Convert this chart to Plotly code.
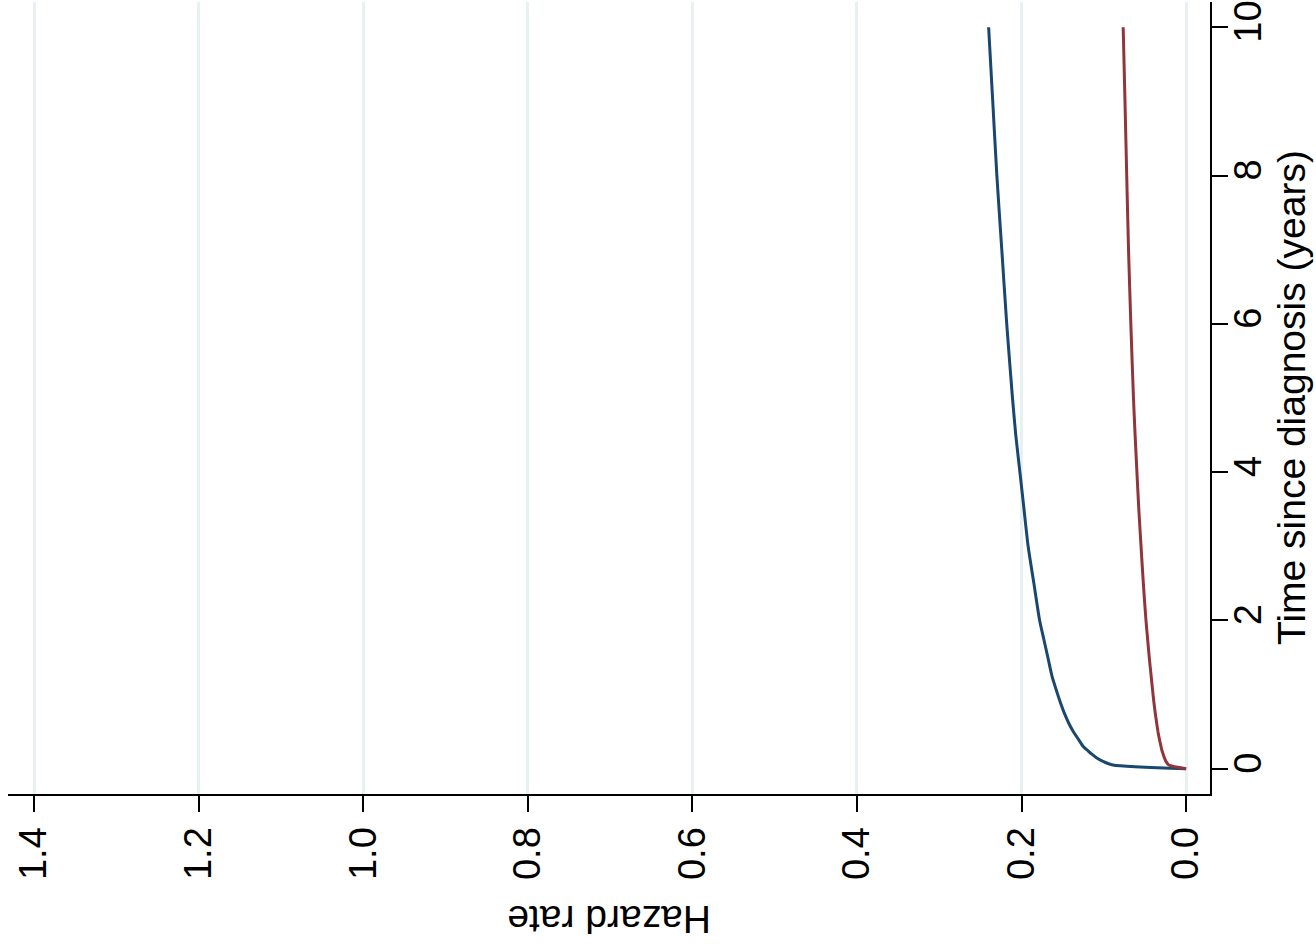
import plotly.graph_objects as go

# Data
time_years = [0, 0.05, 0.1, 0.15, 0.2, 0.25, 0.3, 0.4, 0.5, 0.6, 0.75, 0.9, 1, 1.25, 1.5,
              1.75, 2, 2.5, 3, 3.5, 4, 4.5, 5, 6, 7, 8, 9, 10]
hazard_blue = [0, 0.089, 0.101, 0.109, 0.115, 0.120, 0.125, 0.131, 0.137, 0.142, 0.148,
               0.153, 0.156, 0.163, 0.168, 0.173, 0.178, 0.185, 0.192, 0.197, 0.202,
               0.207, 0.211, 0.218, 0.224, 0.230, 0.235, 0.240]
hazard_red = [0, 0.021, 0.0245, 0.0265, 0.028, 0.0295, 0.0305, 0.0325, 0.0342, 0.0356, 0.0375,
              0.0392, 0.0402, 0.0425, 0.0448, 0.0468, 0.0488, 0.052, 0.0548, 0.0575, 0.0598,
              0.062, 0.064, 0.0672, 0.0700, 0.0722, 0.0743, 0.0765]
hazard_ticks = [0.0, 0.2, 0.4, 0.6, 0.8, 1.0, 1.2, 1.4]
time_ticks = [0, 2, 4, 6, 8, 10]

FONT = "Liberation Sans, Arial, Helvetica, sans-serif"

fig = go.Figure()
fig.add_trace(go.Scatter(x=hazard_blue, y=time_years, mode="lines",
                         line=dict(color="#1A476F", width=3, shape="spline", smoothing=0.6),
                         showlegend=False))
fig.add_trace(go.Scatter(x=hazard_red, y=time_years, mode="lines",
                         line=dict(color="#90353B", width=3, shape="spline", smoothing=0.6),
                         showlegend=False))

fig.update_layout(
    width=1316, height=951,
    margin=dict(l=8, r=106, t=0, b=157),
    paper_bgcolor="white", plot_bgcolor="white",
    font=dict(family=FONT, color="black"),
    xaxis=dict(
        range=[1.4316, -0.029],
        tickvals=hazard_ticks,
        ticktext=[f"{v:.1f}" for v in hazard_ticks],
        tickangle=-90,
        tickfont=dict(size=38, family=FONT, color="black"),
        showgrid=True, gridcolor="#E8F1F2", gridwidth=3,
        zeroline=False,
        showline=True, linecolor="black", linewidth=2,
        ticks="outside", ticklen=16, tickwidth=2, tickcolor="black",
    ),
    yaxis=dict(
        range=[-0.34, 10.34],
        side="right",
        tickvals=time_ticks,
        ticktext=[str(v) for v in time_ticks],
        tickangle=-90,
        tickfont=dict(size=38, family=FONT, color="black"),
        ticklabeloverflow="allow",
        ticklabelstandoff=-13,
        showgrid=False, zeroline=False,
        showline=True, linecolor="black", linewidth=2,
        ticks="outside", ticklen=16, tickwidth=2, tickcolor="black",
    ),
    annotations=[
        dict(text="Hazard rate", xref="paper", yref="paper", x=0.5, y=-0.1587,
             xanchor="center", yanchor="middle", textangle=180, showarrow=False,
             font=dict(size=39, family=FONT, color="black")),
        dict(text="Time since diagnosis (years)", xref="paper", yref="paper",
             x=(1291 - 8) / 1202, y=0.5,
             xanchor="center", yanchor="middle", textangle=-90, showarrow=False,
             font=dict(size=39, family=FONT, color="black")),
    ],
)

fig.write_html("out.html")
